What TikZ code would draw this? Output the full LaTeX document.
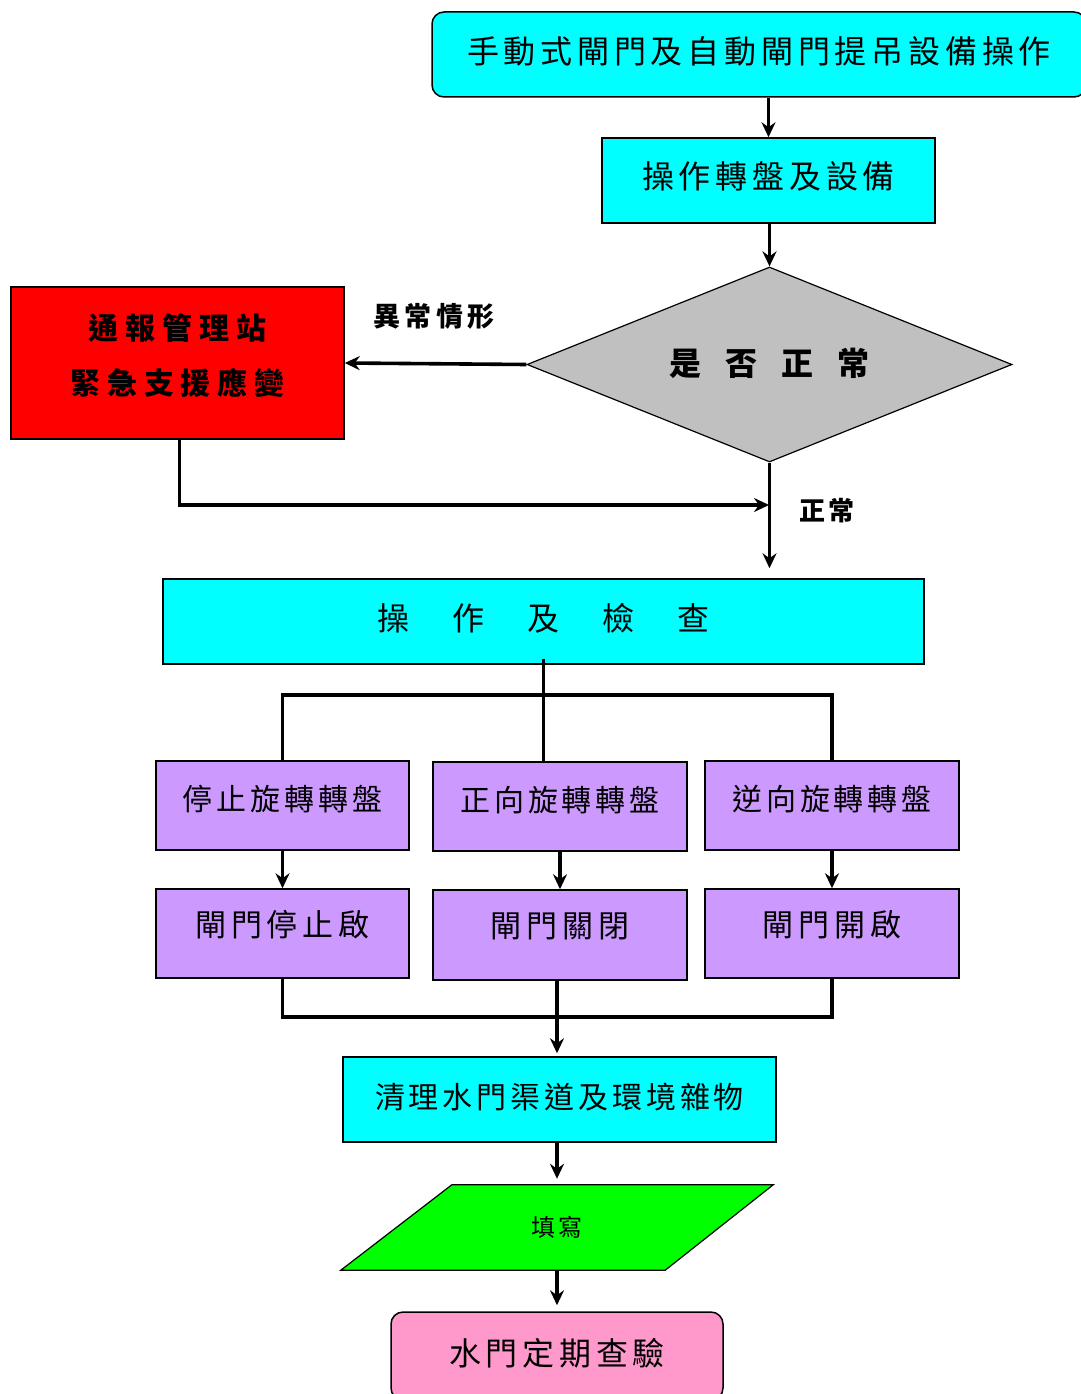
\documentclass[tikz,border=0pt]{standalone}
\usepackage{fontspec}
\setmainfont{Noto Sans CJK TC}
\usetikzlibrary{shapes.geometric,arrows.meta,backgrounds}
\definecolor{cyanbox}{HTML}{00FFFF}
\definecolor{purplebox}{HTML}{CC99FF}
\definecolor{redbox}{HTML}{FF0000}
\definecolor{greybox}{HTML}{C0C0C0}
\definecolor{greenbox}{HTML}{00FF00}
\definecolor{pinkbox}{HTML}{FF99CC}
\newcommand\fsz[2]{\fontsize{#1}{#1}\selectfont\addfontfeature{LetterSpace=#2}}
\begin{document}
\begin{tikzpicture}[x=1pt,y=-1pt,
  box/.style={draw=black, line width=1.5pt, inner sep=0pt, anchor=center},
  arr/.style={line width=3.6pt, -{Stealth[length=15pt,width=14pt,inset=5pt]}},
  ln/.style={line width=3.6pt},
  lab/.style={inner sep=0pt, anchor=center}]
\useasboundingbox (0,0) rectangle (1080,1394);

% nodes
\node[box, fill=cyanbox, rounded corners=12pt, minimum width=654pt, minimum height=85pt] (top) at (759,54.5)
  {\raisebox{9pt}{\fsz{32pt}{15}手動式閘門及自動閘門提吊設備操作}};
\node[box, fill=cyanbox, minimum width=333pt, minimum height=85pt] (eq) at (768.5,180.5)
  {\raisebox{11pt}{\fsz{32pt}{15}操作轉盤及設備}};
\node[box, fill=greybox, shape=diamond, aspect=2.5, minimum width=485pt, minimum height=195pt, line width=1.2pt] (dec) at (769.5,364.5)
  {\raisebox{6pt}{\fsz{32pt}{0}\bfseries 是\hspace{24pt}否\hspace{24pt}正\hspace{24pt}常}};
\node[box, fill=redbox, minimum width=333pt, minimum height=152pt] (alarm) at (177.5,363)
  {\raisebox{7pt}[\height][\depth]{\parbox{320pt}{\centering\fsz{30pt}{23}\bfseries 通報管理站\\[25pt]緊急支援應變}}};
\node[box, fill=cyanbox, minimum width=761pt, minimum height=85pt] (check) at (543.5,621.5)
  {\raisebox{10pt}{\fsz{32pt}{0}操\hspace{43pt}作\hspace{43pt}及\hspace{43pt}檢\hspace{43pt}查}};
\node[box, fill=purplebox, minimum width=253pt, minimum height=89pt] (p1) at (282.5,805.5)
  {\raisebox{16pt}{\fsz{30pt}{13}停止旋轉轉盤}};
\node[box, fill=purplebox, minimum width=254pt, minimum height=89pt] (p2) at (560,806.5)
  {\raisebox{16pt}{\fsz{30pt}{13}正向旋轉轉盤}};
\node[box, fill=purplebox, minimum width=254pt, minimum height=89pt] (p3) at (832,805.5)
  {\raisebox{16pt}{\fsz{30pt}{13}逆向旋轉轉盤}};
\node[box, fill=purplebox, minimum width=253pt, minimum height=89pt] (q1) at (282.5,933.5)
  {\raisebox{20pt}{\fsz{31pt}{16}閘門停止啟}};
\node[box, fill=purplebox, minimum width=254pt, minimum height=90pt] (q2) at (560,935)
  {\raisebox{20pt}{\fsz{31pt}{16}閘門關閉}};
\node[box, fill=purplebox, minimum width=254pt, minimum height=89pt] (q3) at (832,933.5)
  {\raisebox{20pt}{\fsz{31pt}{16}閘門開啟}};
\node[box, fill=cyanbox, minimum width=433pt, minimum height=85pt] (clean) at (559.5,1099.5)
  {\raisebox{7pt}{\fsz{30pt}{13}清理水門渠道及環境雜物}};
\node[inner sep=0pt, anchor=center, minimum width=432pt, minimum height=85pt] (form) at (557,1227.5)
  {\fsz{24pt}{12}填寫};
\begin{scope}[on background layer]
  \filldraw[fill=greenbox, draw=black, line width=1.2pt]
    ([xshift=111pt]form.north west) -- (form.north east)
    -- ([xshift=-108pt]form.south east) -- (form.south west) -- cycle;
\end{scope}
\node[box, fill=pinkbox, rounded corners=12pt, minimum width=332pt, minimum height=88pt] (insp) at (557,1356)
  {\raisebox{8pt}{\fsz{32pt}{15}水門定期查驗}};

% labels
\node[lab] (abn) at (434,316) {\fsz{27pt}{15}\bfseries 異常情形};
\node[lab] (nor) at (827,511) {\fsz{26pt}{15}\bfseries 正常};

% coordinates
\coordinate (join) at (769,505);
\coordinate (busA) at (0,695);
\coordinate (busB) at (0,1017);

% connectors
\draw[arr] (eq.north |- top.south) -- (eq.north);
\draw[arr] (dec.north |- eq.south) -- (dec.north);
\draw[arr] (dec.west) -- (alarm.east);
\draw[arr] ([xshift=2pt]alarm.south) |- (join);
\draw[arr, shorten >=10pt] (dec.south) -- (dec.south |- check.north);
\draw[ln] ([yshift=6pt]check.south) -- (check.south |- p2.north);
\draw[ln] (p1.north) -- (p1.north |- busA) -- (p3.north |- busA) -- (p3.north);
\draw[arr] (p1.south) -- (q1.north);
\draw[arr] (p2.south) -- (q2.north);
\draw[arr] (p3.south) -- (q3.north);
\draw[ln] (q1.south) -- (q1.south |- busB) -- (q3.south |- busB) -- (q3.south);
\draw[arr, shorten >=3pt] ([xshift=-3pt]q2.south) -- ([xshift=-3pt]q2.south |- clean.north);
\draw[arr, shorten >=6pt] (form.north |- clean.south) -- (form.north);
\draw[arr, shorten >=6pt] (form.south) -- (insp.north);
\end{tikzpicture}
\end{document}
